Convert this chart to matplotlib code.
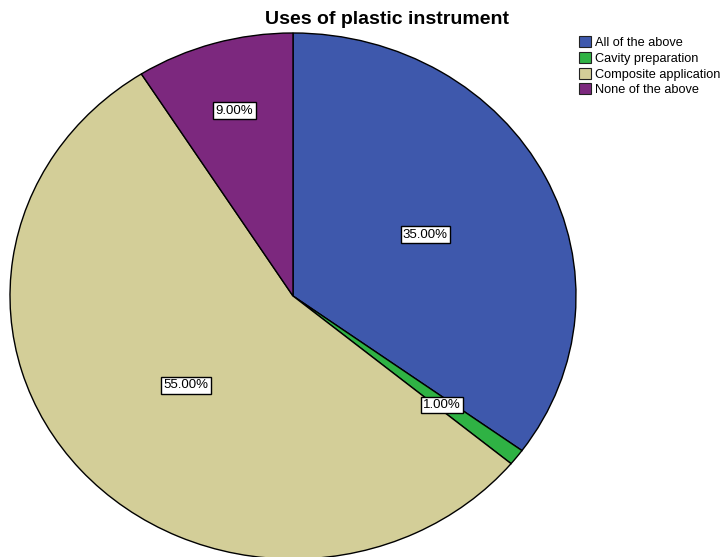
import numpy as np
import matplotlib
matplotlib.use("Agg")
import matplotlib.pyplot as plt
from matplotlib.patches import Patch

categories = ["All of the above", "Cavity preparation", "Composite application", "None of the above"]
percentages = [35.0, 1.0, 55.0, 9.0]
colors = ["#3E58AC", "#2FB244", "#D3CE98", "#7C287E"]
label_radius = [0.525, 0.667, 0.505, 0.74]

W, H = 725, 557
fig = plt.figure(figsize=(W / 100, H / 100), dpi=100)
ax = fig.add_axes([0, 0, 1, 1])

# pie geometry in pixels (centre and horizontal / vertical radii)
cx, cy = 293, 296
rx, ry = 283, 263

wedges, _ = ax.pie(percentages, colors=colors, startangle=90, counterclock=False,
                   radius=1.0, center=(0, 0),
                   wedgeprops=dict(edgecolor="black", linewidth=1.0))
ax.set_aspect("auto")
ax.set_xlim(-cx / rx, (W - cx) / rx)
ax.set_ylim(-(H - cy) / ry, cy / ry)
ax.axis("off")

for w, p, r in zip(wedges, percentages, label_radius):
    mid = np.deg2rad((w.theta1 + w.theta2) / 2)
    ax.text(r * np.cos(mid), r * np.sin(mid), f"{p:.2f}%",
            ha="center", va="center_baseline", fontsize=9.5, family="Liberation Sans",
            bbox=dict(boxstyle="square,pad=0.18", facecolor="white",
                      edgecolor="black", linewidth=1.0))

fig.text(387 / W, 1 - 20 / H, "Uses of plastic instrument", ha="center", va="center",
         fontsize=14, fontweight="bold", family="Liberation Sans")

handles = [Patch(facecolor=c, edgecolor="#222222", linewidth=0.8) for c in colors]
fig.legend(handles, categories, loc="upper left", bbox_to_anchor=(578 / W, 1 - 35 / H),
           frameon=False, prop=dict(family="Liberation Sans", size=9.2),
           handlelength=0.95, handleheight=0.95, handletextpad=0.3,
           labelspacing=0.22, borderpad=0.1, borderaxespad=0)

fig.savefig("out.png", dpi=100)
